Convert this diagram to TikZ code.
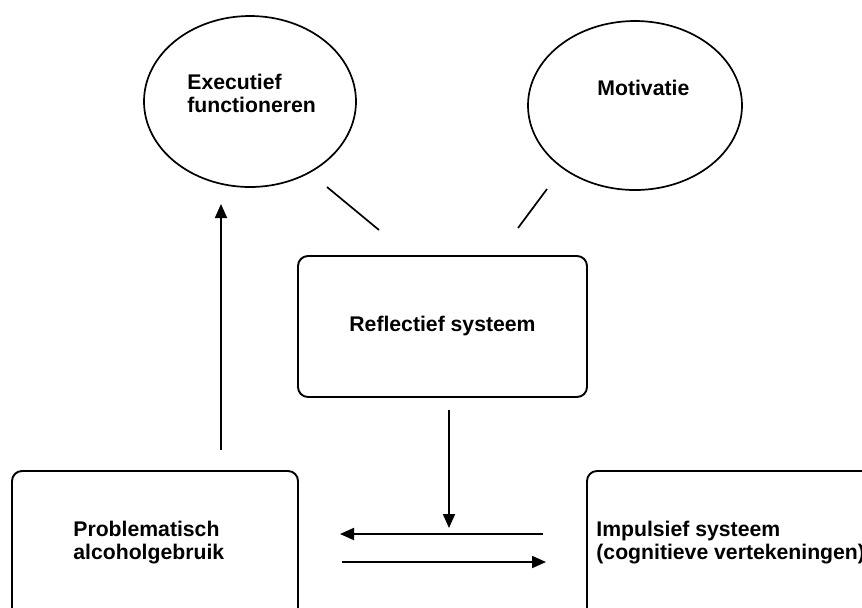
\documentclass[tikz,border=0pt]{standalone}
\usepackage{fontspec}
\setmainfont{Liberation Sans}
\usepackage{tikz}
\usetikzlibrary{positioning,arrows}
\usetikzlibrary{shapes}
\usetikzlibrary{arrows.meta}
\begin{document}
\begin{tikzpicture}[x=0.5pt,y=-0.5pt]
  	\clip (0,0) rectangle (862,607);
  	\tikzstyle{every node}=[font=\fontsize{10.6}{11.4}\selectfont\bfseries, inner sep=0pt]
  	\tikzstyle{bubble}=[draw, ellipse, line width=0.85pt]
  	\tikzstyle{blok}=[draw, rectangle, rounded corners=5pt, line width=0.95pt]
  	\draw (250,101.5) node (executief) [bubble, minimum width=106pt, minimum height=85.5pt] {};
  	\draw (635,105.5) node (motivatie) [bubble, minimum width=107pt, minimum height=84.5pt] {};
  	\draw (442.5,326.5) node (reflectief) [blok, minimum width=144.5pt, minimum height=70.5pt] {Reflectief systeem};
  	\draw (155,570) node (probleem) [blok, minimum width=143pt, minimum height=99pt] {};
  	\draw (800,570) node (impulsief) [blok, minimum width=213pt, minimum height=99pt] {};
  	\draw (187,74) node (executief_txt) [anchor=north west, align=left] {Executief\\functioneren};
  	\draw (597,80) node (motivatie_txt) [anchor=north west] {Motivatie};
  	\draw (73,521) node (probleem_txt) [anchor=north west, align=left] {Problematisch\\alcoholgebruik};
  	\draw (596,521) node (impulsief_txt) [anchor=north west, align=left] {Impulsief systeem\\(cognitieve vertekeningen)};
  	\coordinate (e_end) at (327,187);
  	\coordinate (r_left) at (379,230);
  	\coordinate (m_end) at (547,189);
  	\coordinate (r_right) at (518,228);
  	\coordinate (p_top) at (221,450);
  	\coordinate (e_bot) at (221,204);
  	\coordinate (r_bot) at (449,410);
  	\coordinate (i_left) at (449,528);
  	\coordinate (up_start) at (543,534);
  	\coordinate (up_end) at (340,534);
  	\coordinate (low_start) at (342,562);
  	\coordinate (low_end) at (546,562);
  	\tikzstyle{pijl}=[line width=0.95pt, -{Triangle[length=7pt,width=6pt]}]
  	\draw [line width=0.85pt] (e_end) -- (r_left);
  	\draw [line width=0.85pt] (m_end) -- (r_right);
  	\draw [pijl] (p_top) -- (e_bot);
  	\draw [pijl] (r_bot) -- (i_left);
  	\draw [pijl] (up_start) -- (up_end);
  	\draw [pijl] (low_start) -- (low_end);
\end{tikzpicture}
\end{document}
